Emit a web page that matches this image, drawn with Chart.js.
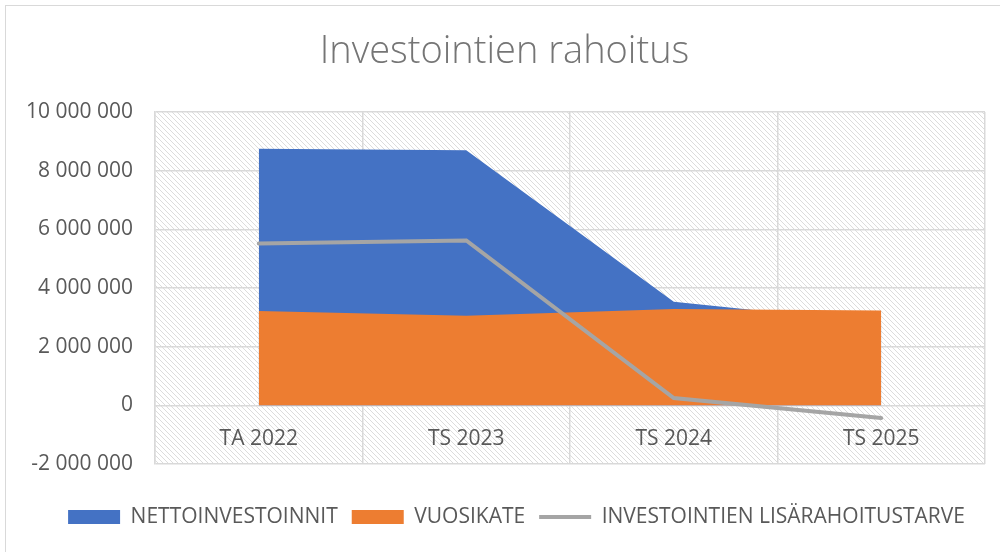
<!DOCTYPE html>
<html>
<head>
<meta charset="utf-8">
<script src="https://cdn.jsdelivr.net/npm/chart.js@4.4.1/dist/chart.umd.min.js"></script>
<style>
  html, body { margin: 0; padding: 0; background: #fff; }
  #wrap { position: relative; width: 1000px; height: 552px; }
</style>
</head>
<body>
<div id="wrap"><canvas id="chart"></canvas></div>
<script>
const categories = ['TA 2022', 'TS 2023', 'TS 2024', 'TS 2025'];
const nettoinvestoinnit = [8750000, 8700000, 3530000, 2800000];
const vuosikate = [3220000, 3050000, 3280000, 3230000];
const lisarahoitustarve = [5520000, 5620000, 250000, -430000];
const yTicks = [-2000000, 0, 2000000, 4000000, 6000000, 8000000, 10000000];

const FONT = '"Open Sans", "Noto Sans", sans-serif';
const TEXT = '#595959';

// vinoviivoitus piirtoalueen taustaksi
function makeHatch() {
  const c = document.createElement('canvas');
  c.width = 5; c.height = 5;
  const g = c.getContext('2d');
  g.fillStyle = '#fff';
  g.fillRect(0, 0, 5, 5);
  g.strokeStyle = '#dcdcdc';
  g.lineWidth = 1;
  g.beginPath();
  g.moveTo(-1, -1); g.lineTo(6, 6);
  g.moveTo(-1, 4); g.lineTo(1, 6);
  g.moveTo(4, -1); g.lineTo(6, 1);
  g.stroke();
  return g.createPattern(c, 'repeat');
}

const hatchBackground = {
  id: 'hatchBackground',
  afterLayout(chart) {
    // otsikko ja selite hieman oikealle kuten Excelissä
    chart.titleBlock.left += 12; chart.titleBlock.right += 12;
    chart.legend.left += 24; chart.legend.right += 24;
  },
  beforeDraw(chart) {
    const { ctx, chartArea: a } = chart;
    ctx.save();
    ctx.strokeStyle = '#d9d9d9';
    ctx.lineWidth = 1;
    ctx.strokeRect(5.5, 5.5, 1200, 800);
    ctx.fillStyle = makeHatch();
    ctx.fillRect(a.left, a.top, a.right - a.left, a.bottom - a.top);
    ctx.restore();
  },
};

const fmt = v => Math.round(v).toString().replace(/\B(?=(\d{3})+(?!\d))/g, ' ');

new Chart(document.getElementById('chart'), {
  type: 'line',
  data: {
    labels: categories,
    datasets: [
      {
        label: 'NETTOINVESTOINNIT',
        data: nettoinvestoinnit,
        backgroundColor: '#4472c4',
        borderColor: '#4472c4',
        borderWidth: 0,
        fill: 'origin',
        pointRadius: 0,
        pointStyle: 'rect',
        tension: 0,
        order: 2,
      },
      {
        label: 'VUOSIKATE',
        data: vuosikate,
        backgroundColor: '#ed7d31',
        borderColor: '#ed7d31',
        borderWidth: 0,
        fill: 'origin',
        pointRadius: 0,
        pointStyle: 'rect',
        tension: 0,
        order: 1,
      },
      {
        label: 'INVESTOINTIEN LISÄRAHOITUSTARVE',
        data: lisarahoitustarve,
        borderColor: '#a5a5a5',
        backgroundColor: '#a5a5a5',
        borderWidth: 4,
        borderCapStyle: 'round',
        fill: false,
        pointRadius: 0,
        pointStyle: 'line',
        tension: 0,
        order: 0,
      },
    ],
  },
  options: {
    responsive: true,
    maintainAspectRatio: false,
    animation: false,
    layout: { padding: { left: 0, right: 15, top: 0, bottom: 14.5 } },
    plugins: {
      title: {
        display: true,
        text: 'Investointien rahoitus',
        color: '#757575',
        font: { family: FONT, size: 38, weight: '300' },
        padding: { top: 29, bottom: 37.4 },
      },
      legend: {
        position: 'bottom',
        labels: {
          usePointStyle: true,
          pointStyleWidth: 52,
          boxHeight: 14,
          color: TEXT,
          font: { family: FONT, size: 21 },
          padding: 14,
          sort: (a, b) => a.datasetIndex - b.datasetIndex,
        },
      },
      tooltip: { enabled: false },
    },
    scales: {
      x: {
        position: { y: 0 },
        offset: true,
        grid: { offset: true, color: '#d9d9d9', lineWidth: 1.5, drawTicks: false },
        border: { display: false },
        ticks: { color: TEXT, font: { family: FONT, size: 21 }, padding: 21.5 },
      },
      // tyhjä akseli: tilaa piirtoalueen ja selitteen väliin
      gap: {
        type: 'category',
        position: 'bottom',
        grid: { display: false },
        border: { display: false },
        ticks: { display: false },
        afterFit: s => { s.height = 28.5; },
      },
      y: {
        min: -2000000,
        max: 10000000,
        afterBuildTicks: s => { s.ticks = yTicks.map(v => ({ value: v })); },
        afterFit: s => { s.width = 155; },
        grid: { color: '#d9d9d9', lineWidth: 1.5, drawTicks: false },
        border: { display: true, color: '#d9d9d9', width: 1.5 },
        ticks: { color: TEXT, font: { family: FONT, size: 21 }, padding: 22, callback: v => fmt(v) },
      },
    },
  },
  plugins: [hatchBackground],
});
</script>
</body>
</html>
